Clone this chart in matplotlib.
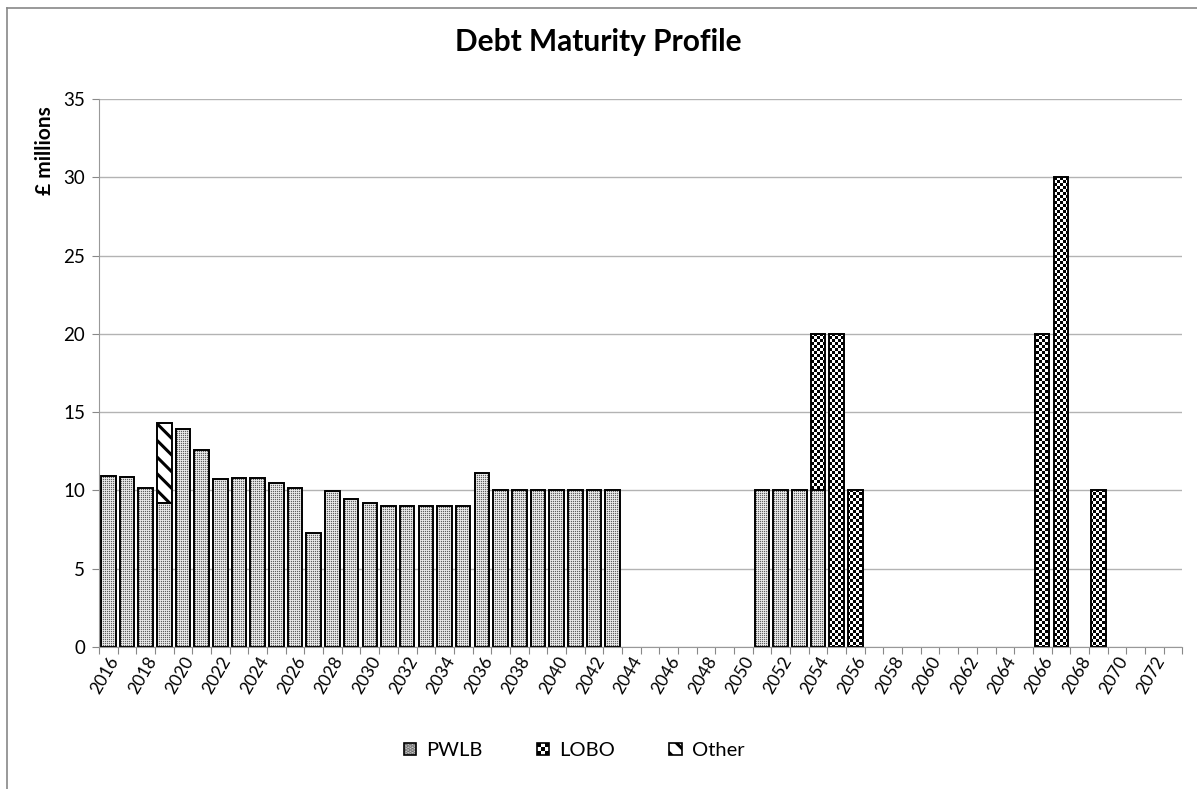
import matplotlib
matplotlib.use("Agg")
import matplotlib.pyplot as plt
import numpy as np
from matplotlib.path import Path
from matplotlib.patches import Rectangle, Patch
from matplotlib.legend_handler import HandlerBase

plt.rcParams['font.family'] = ['Lato', 'DejaVu Sans']
plt.rcParams['hatch.linewidth'] = 2.2

years = list(range(2016, 2074))

pwlb = [10.9, 10.85, 10.15, 9.2, 13.9, 12.6, 10.75, 10.8, 10.8, 10.45,
        10.15, 7.3, 9.95, 9.45, 9.2, 9.0, 9.0, 9.0, 9.0, 9.0,
        11.1, 10, 10, 10, 10, 10, 10, 10,
        0, 0, 0, 0, 0, 0, 0,
        10, 10, 10, 10,
        0, 0, 0, 0, 0, 0, 0, 0, 0, 0, 0, 0, 0, 0, 0, 0, 0, 0, 0]
lobo_years = [2054, 2055, 2056, 2066, 2067, 2069]
lobo_vals = [10, 20, 10, 20, 30, 10]
other_years = [2019]
other_vals = [5.1]

lobo = [0.0] * len(years)
for yr, v in zip(lobo_years, lobo_vals):
    lobo[years.index(yr)] = v
other = [0.0] * len(years)
for yr, v in zip(other_years, other_vals):
    other[years.index(yr)] = v

pwlb = np.array(pwlb, dtype=float)
lobo = np.array(lobo)
other = np.array(other)
x = np.arange(len(years))
width = 0.78

fig = plt.figure(figsize=(11.97, 7.89), dpi=100)
ax = fig.add_axes([0.0827, 0.18, 0.905, 0.6945])

# outer chart border (left and top visible)
fig.add_artist(plt.Line2D([7 / 1197, 7 / 1197], [0, 1 - 8 / 789], color='#888888', lw=1.2))
fig.add_artist(plt.Line2D([7 / 1197, 1], [1 - 8 / 789, 1 - 8 / 789], color='#888888', lw=1.2))

ax.set_xlim(-0.5, len(years) - 0.5)
ax.set_ylim(0, 35)
ax.set_yticks(range(0, 36, 5))
ax.yaxis.grid(True, color='#b3b3b3', lw=1)
ax.set_axisbelow(True)

# bars: shapes only, patterns added below
pw_bars = ax.bar(x, pwlb, width, color='none', edgecolor='none')
lobo_bars = ax.bar(x, lobo, width, bottom=pwlb, color='none', edgecolor='none')
ax.bar(x, other, width, bottom=pwlb + lobo, facecolor='white', hatch='\\\\',
       edgecolor='black', lw=0, zorder=1.5)


def clip_path(bars):
    paths = []
    for b in bars:
        if b.get_height() <= 0:
            continue
        x0, y0 = b.get_x(), b.get_y()
        x1, y1 = x0 + b.get_width(), y0 + b.get_height()
        paths.append(Path([(x0, y0), (x1, y0), (x1, y1), (x0, y1), (x0, y0)], closed=True))
    return Path.make_compound_path(*paths)


bb = ax.get_window_extent()
W, H = int(round(bb.width)), int(round(bb.height))
jj, ii = np.meshgrid(np.arange(W), np.arange(H))

# stipple texture for PWLB
tile = np.array([[0.38, 0.84],
                 [0.84, 0.92]])
stipple = tile[ii % 2, jj % 2]
# checker texture for LOBO
checker = ((ii // 3 + jj // 3) % 2).astype(float)

ext = (-0.5, len(years) - 0.5, 0, 35)
im1 = ax.imshow(stipple, cmap='gray', vmin=0, vmax=1, extent=ext, aspect='auto',
                interpolation='nearest', zorder=1)
im1.set_clip_path(clip_path(pw_bars), ax.transData)
im2 = ax.imshow(checker, cmap='gray', vmin=0, vmax=1, extent=ext, aspect='auto',
                interpolation='nearest', zorder=1)
im2.set_clip_path(clip_path(lobo_bars), ax.transData)

# outlines
for bottom, h in [(0, pwlb), (pwlb, lobo), (pwlb + lobo, other)]:
    mask = h > 0
    ax.bar(x[mask], h[mask], width, bottom=np.broadcast_to(bottom, x.shape)[mask],
           fill=False, edgecolor='black', lw=1.4, zorder=2)

ax.set_xlim(-0.5, len(years) - 0.5)
ax.set_ylim(0, 35)

# x axis: ticks between categories, labels every 2 years
ax.set_xticks(np.arange(len(years) + 1) - 0.5)
ax.set_xticklabels([])
ax.set_xticks(x[::2], minor=True)
ax.set_xticklabels([str(y) for y in years[::2]], minor=True, rotation=60,
                   ha='right', rotation_mode='anchor', fontsize=12.5)
ax.tick_params(axis='x', which='minor', length=0, pad=5)
ax.tick_params(axis='x', which='major', length=5, color='#888888')
ax.tick_params(axis='y', length=5, color='#888888', labelsize=13.5, pad=5)

for s in ['top', 'right']:
    ax.spines[s].set_visible(False)
ax.spines['left'].set_color('#999999')
ax.spines['bottom'].set_color('#999999')

ax.set_ylabel('£ millions', fontsize=15, fontweight='bold')
ax.yaxis.set_label_coords(-0.041, 0.905)
fig.text(0.5, 1 - 42 / 789, 'Debt Maturity Profile', fontsize=21.5, fontweight='bold',
         ha='center', va='center')


class Swatch(HandlerBase):
    def __init__(self, kind):
        super().__init__()
        self.kind = kind

    def create_artists(self, legend, orig_handle, xdescent, ydescent, width, height,
                       fontsize, trans):
        s = height * 0.8
        x0 = -xdescent + width - s
        y0 = -ydescent + (height - s) / 2
        arts = []
        if self.kind == 'pwlb':
            arts.append(Rectangle((x0, y0), s, s, facecolor='#c4c4c4', hatch='....',
                                  edgecolor='#666666', lw=0, transform=trans))
        elif self.kind == 'lobo':
            n = 3
            for i in range(n):
                for j in range(n):
                    c = 'black' if (i + j) % 2 == 0 else 'white'
                    arts.append(Rectangle((x0 + i * s / n, y0 + j * s / n), s / n, s / n,
                                          facecolor=c, lw=0, transform=trans))
        else:
            arts.append(Rectangle((x0, y0), s, s, facecolor='white', hatch='\\\\',
                                  edgecolor='black', lw=0, transform=trans))
        arts.append(Rectangle((x0, y0), s, s, fill=False, edgecolor='black', lw=1.2,
                              transform=trans))
        return arts


handles = [Patch(label='PWLB'), Patch(label='LOBO'), Patch(label='Other')]
fig.legend(handles=handles, labels=['PWLB', 'LOBO', 'Other'], ncol=3,
           loc='center', bbox_to_anchor=(0.478, 1 - 750 / 789), frameon=False,
           fontsize=14.5, handlelength=0.8, handleheight=0.8, handletextpad=0.5,
           columnspacing=2.5,
           handler_map={handles[0]: Swatch('pwlb'), handles[1]: Swatch('lobo'),
                        handles[2]: Swatch('other')})

fig.savefig('out.png', dpi=100)
